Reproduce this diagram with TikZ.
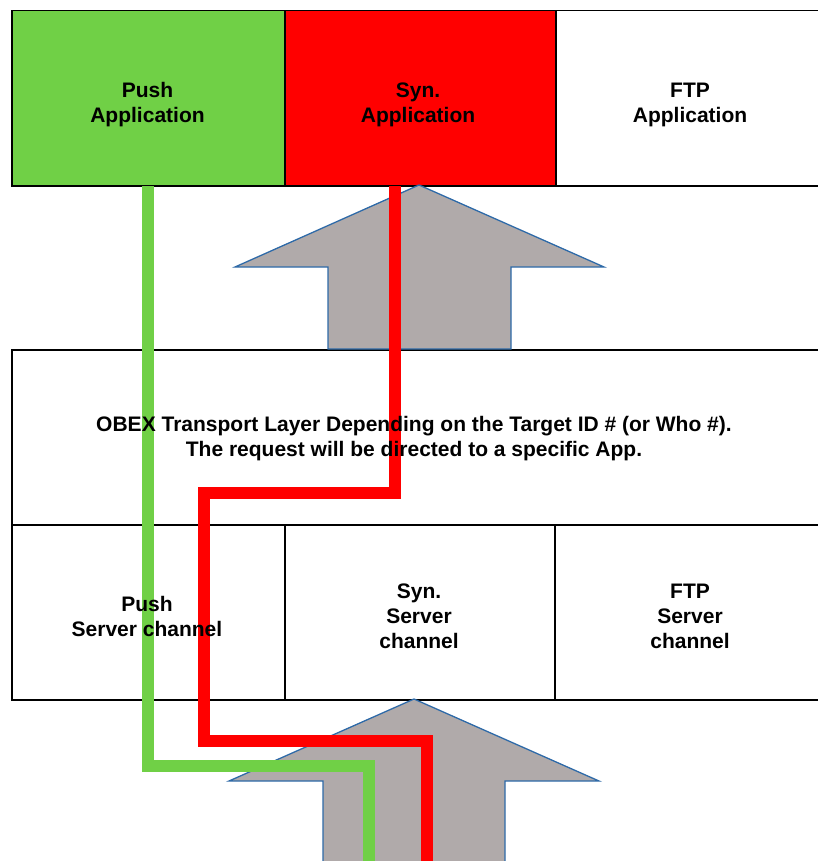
\documentclass[tikz,border=0pt]{standalone}
\usepackage{fontspec}
\setmainfont{Liberation Sans}
\definecolor{pushgreen}{RGB}{112,208,70}
\definecolor{synred}{RGB}{255,0,0}
\definecolor{arrowgray}{RGB}{176,170,170}
\definecolor{arrowblue}{RGB}{46,106,168}
\tikzset{
  box/.style={draw=black, line width=1.5pt, inner sep=0pt, anchor=north west},
  lbl/.style={align=center, inner sep=0pt, font=\fontsize{21}{25}\selectfont\bfseries},
  bigarrow/.style={fill=arrowgray, draw=arrowblue, line width=1.3pt, line join=miter},
  route/.style={line width=12pt, line join=miter, line cap=butt}
}
\begin{document}
\begin{tikzpicture}[x=1pt, y=-1pt]
\useasboundingbox (0,0) rectangle (817,861);
% boxes
\node (push) [box, fill=pushgreen, minimum width=273pt, minimum height=175pt] at (11,10) {};
\node (syn) [box, fill=synred, minimum width=271pt, minimum height=175pt] at (284,10) {};
\node (ftp) [box, fill=white, minimum width=275pt, minimum height=175pt] at (555,10) {};
\node (obex) [box, fill=white, minimum width=819pt, minimum height=175pt] at (11,349) {};
\node (pushsrv) [box, fill=white, minimum width=273pt, minimum height=175pt] at (11,524) {};
\node (synsrv) [box, fill=white, minimum width=270pt, minimum height=175pt] at (284,524) {};
\node (ftpsrv) [box, fill=white, minimum width=276pt, minimum height=175pt] at (554,524) {};
% big arrows
\draw[bigarrow] (419,185) -- (604,267) -- (511,267) -- (511,349) -- (328,349) -- (328,267) -- (235,267) -- cycle;
\draw[bigarrow] (414,699) -- (599,781) -- (505,781) -- (505,875) -- (323,875) -- (323,781) -- (229,781) -- cycle;
% routes
\coordinate (gstart) at (147.5,186);
\coordinate (gend) at (369,875);
\coordinate (rstart) at (394.5,186);
\coordinate (rend) at (427,875);
\draw[route, pushgreen] (gstart) -- (gstart |- 0,766) -- (gend |- 0,766) -- (gend);
\draw[route, synred] (rstart) -- (rstart |- 0,493) -- (204,493) -- (204,741) -- (rend |- 0,741) -- (rend);
% labels
\node (tpush) [lbl] at (147.5,105) {Push\\Application};
\node (tsyn) [lbl] at (418,105) {Syn.\\Application};
\node (tftp) [lbl] at (690,105) {FTP\\Application};
\node (tobex) [lbl] at (414,439) {OBEX Transport Layer Depending on the Target ID \# (or Who \#).\\The request will be directed to a specific App.};
\node (tpushsrv) [lbl] at (147,616) {Push\\Server channel};
\node (tsynsrv) [lbl] at (419,616) {Syn.\\Server\\channel};
\node (tftpsrv) [lbl] at (690,616) {FTP\\Server\\channel};
\end{tikzpicture}
\end{document}
